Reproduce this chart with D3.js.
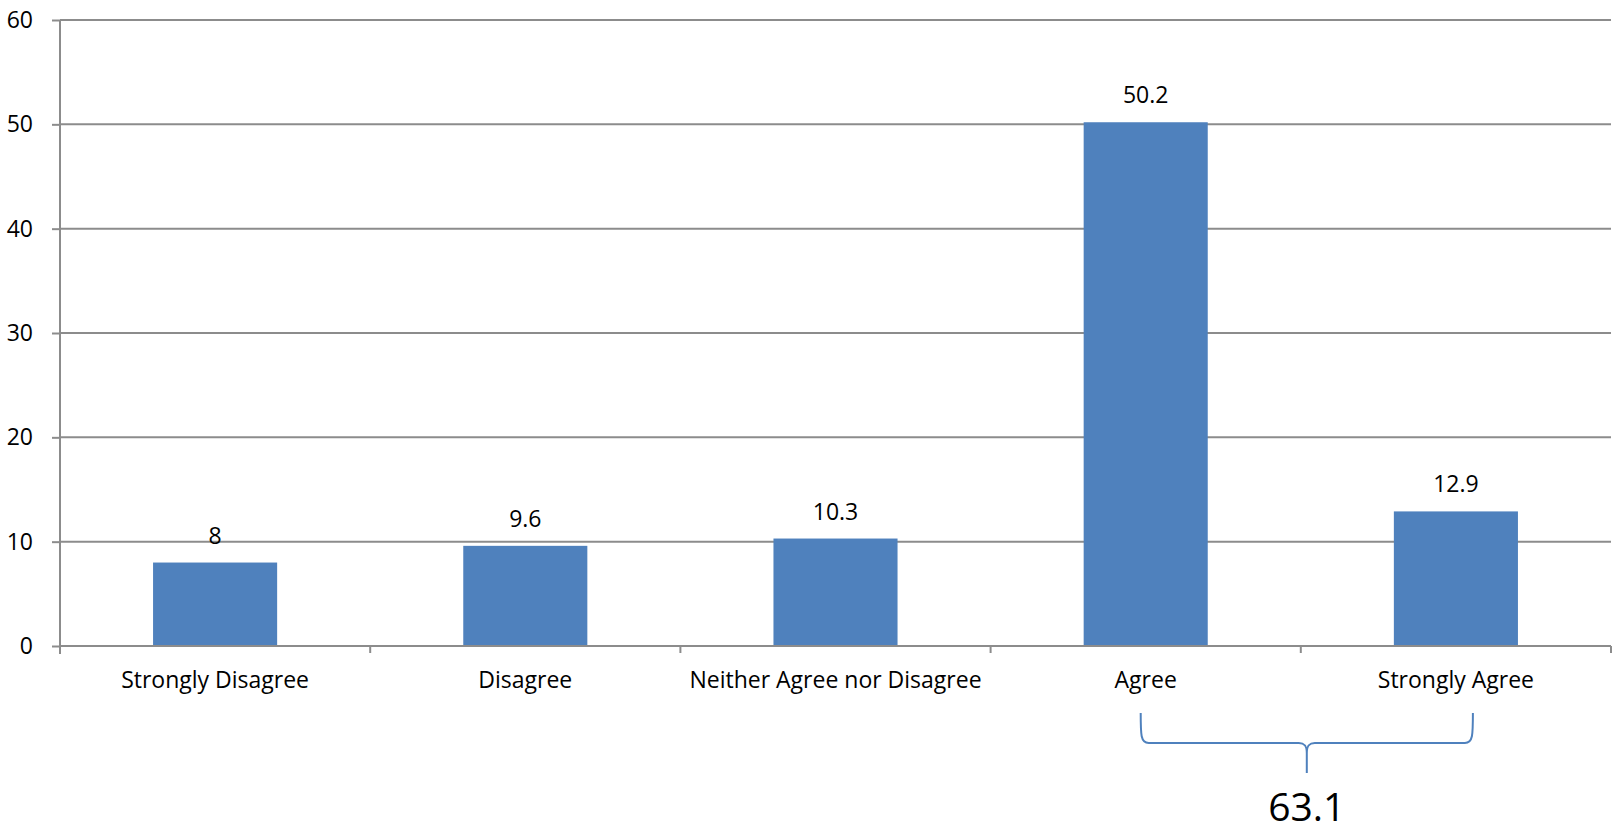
<!DOCTYPE html>
<html><head><meta charset="utf-8">
<script src="https://cdn.jsdelivr.net/npm/d3@7"></script>
<style>
html,body{margin:0;padding:0;background:#fff;}
svg{display:block;}
text{font-family:"Open Sans","Liberation Sans",sans-serif;fill:#000;}
</style></head>
<body>
<svg id="chart" width="1612" height="833"></svg>
<script>
const categories = ["Strongly Disagree","Disagree","Neither Agree nor Disagree","Agree","Strongly Agree"];
const values = [8, 9.6, 10.3, 50.2, 12.9];
const yTicks = [0,10,20,30,40,50,60];
const braceFrom = "Agree", braceTo = "Strongly Agree";
const braceLabel = "63.1";

(function () {
const svg = d3.select("#chart");
const pL = 60, pR = 1611, pT = 20, pB = 646;
const x = d3.scaleBand().domain(categories).range([pL, pR]).paddingInner(0.6).paddingOuter(0.3);
const y = d3.scaleLinear().domain([0, 60]).range([pB, pT]);
const gridColor = "#8c8c8c";
const barColor = "#4F81BD";
const step = x.step();

// gridlines
svg.append("g").selectAll("line").data(yTicks).join("line")
  .attr("x1", pL).attr("x2", pR)
  .attr("y1", d => y(d)).attr("y2", d => y(d))
  .attr("stroke", gridColor).attr("stroke-width", 2);

// y axis
const yAxis = d3.axisLeft(y).tickValues(yTicks).tickSize(8).tickPadding(19).tickSizeOuter(0);
const gy = svg.append("g").attr("transform", `translate(${pL},0)`).call(yAxis);
gy.select(".domain").remove();
gy.selectAll(".tick line").attr("stroke", gridColor).attr("stroke-width", 2);
gy.selectAll(".tick text").attr("font-size", 23).attr("font-family", '"Open Sans","Liberation Sans",sans-serif').attr("fill","#000");
svg.append("line").attr("x1", pL).attr("x2", pL).attr("y1", pT).attr("y2", pB + 8)
  .attr("stroke", gridColor).attr("stroke-width", 2);

// x category ticks at boundaries
const bounds = d3.range(categories.length + 1).map(i => pL + i * step);
svg.append("g").selectAll("line").data(bounds).join("line")
  .attr("x1", d => d).attr("x2", d => d).attr("y1", pB).attr("y2", pB + 7)
  .attr("stroke", gridColor).attr("stroke-width", 2);

// bars
svg.append("g").selectAll("rect").data(values).join("rect")
  .attr("x", (d, i) => x(categories[i]))
  .attr("width", x.bandwidth())
  .attr("y", d => y(d))
  .attr("height", d => y(0) - y(d))
  .attr("fill", barColor);

// zero line on top
svg.append("line").attr("x1", pL).attr("x2", pR).attr("y1", y(0)).attr("y2", y(0))
  .attr("stroke", gridColor).attr("stroke-width", 2);

// value labels
svg.append("g").selectAll("text").data(values).join("text")
  .attr("x", (d, i) => x(categories[i]) + x.bandwidth() / 2)
  .attr("y", d => y(d) - 19)
  .attr("text-anchor", "middle").attr("font-size", 23)
  .text(d => d);

// category labels
svg.append("g").selectAll("text").data(categories).join("text")
  .attr("x", d => x(d) + x.bandwidth() / 2)
  .attr("y", pB + 42)
  .attr("text-anchor", "middle").attr("font-size", 23)
  .text(d => d);

// brace
const bL = x(braceFrom) + x.bandwidth() / 2 - 5;
const bR = x(braceTo) + x.bandwidth() / 2 + 17;
const bC = (bL + bR) / 2;
const yT = 713, yM = 743, yB = 773;
const path = `M${bL},${yT} C${bL},${yM - 8} ${bL},${yM} ${bL + 8},${yM} H${bC - 8} C${bC - 2},${yM} ${bC},${yM + 3} ${bC},${yM + 10} V${yB}
 M${bC},${yM + 10} C${bC},${yM + 3} ${bC + 2},${yM} ${bC + 8},${yM} H${bR - 8} C${bR},${yM} ${bR},${yM - 8} ${bR},${yT}`;
svg.append("path").attr("d", path).attr("fill", "none").attr("stroke", barColor).attr("stroke-width", 2);
svg.append("text").attr("x", bC).attr("y", 821).attr("text-anchor", "middle").attr("font-size", 39).text(braceLabel);
})();
</script>
</body></html>
